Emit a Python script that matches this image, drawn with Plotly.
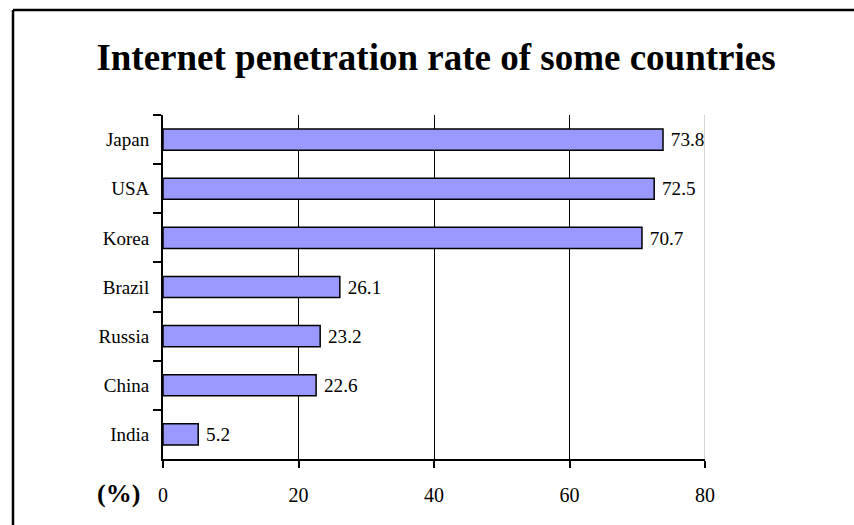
import plotly.graph_objects as go

# Internet penetration rate (%) by country
countries = ["Japan", "USA", "Korea", "Brazil", "Russia", "China", "India"]
rates = [73.8, 72.5, 70.7, 26.1, 23.2, 22.6, 5.2]
x_ticks = [0, 20, 40, 60, 80]

serif = "Liberation Serif, Times New Roman, serif"

fig = go.Figure(
    go.Bar(
        x=rates,
        y=countries,
        orientation="h",
        width=0.43,
        marker=dict(color="#9999ff", line=dict(color="black", width=1.5)),
        text=[f" {v:.1f}" for v in rates],
        textposition="outside",
        textfont=dict(family=serif, size=20, color="black"),
        cliponaxis=False,
    )
)

W, H = 854, 525
L, R, T, B = 163, 149, 115, 66
pw, ph = W - L - R, H - T - B

def px_x(p):
    return (p - L) / pw

def px_y(p):
    return (H - B - p) / ph

fig.update_layout(
    width=W,
    height=H,
    margin=dict(l=L, r=R, t=T, b=B, pad=0),
    paper_bgcolor="white",
    plot_bgcolor="white",
    showlegend=False,
    font=dict(family=serif, size=19, color="black"),
    title=dict(
        text="<b>Internet penetration rate of some countries</b>",
        font=dict(family=serif, size=37, color="black"),
        x=436 / W,
        xanchor="center",
        y=1 - 57 / H,
        yanchor="middle",
    ),
    xaxis=dict(
        range=[0, 80],
        tickvals=x_ticks,
        ticktext=[str(v) for v in x_ticks],
        showgrid=True,
        gridcolor="black",
        gridwidth=1.2,
        showline=True,
        linecolor="black",
        linewidth=2,
        ticks="outside",
        ticklen=7,
        tickwidth=1.5,
        tickcolor="black",
        ticklabelstandoff=10,
        zeroline=False,
        tickfont=dict(family=serif, size=20),
        fixedrange=True,
    ),
    yaxis=dict(
        categoryorder="array",
        categoryarray=countries,
        autorange="reversed",
        showline=True,
        linecolor="black",
        linewidth=2,
        ticks="outside",
        tickson="boundaries",
        ticklen=8,
        tickwidth=1.5,
        tickcolor="black",
        ticklabelstandoff=8,
        showgrid=False,
        tickfont=dict(family=serif, size=19),
        fixedrange=True,
    ),
    shapes=[
        # light right edge of the plotting area
        dict(type="line", xref="x", yref="paper", x0=80, x1=80, y0=0, y1=1,
             line=dict(color="#c8c8c8", width=1.5), layer="below"),
        # outer chart frame (top and left edges)
        dict(type="line", xref="paper", yref="paper",
             x0=px_x(13), x1=px_x(W + 5), y0=px_y(10), y1=px_y(10),
             line=dict(color="black", width=2.5)),
        dict(type="line", xref="paper", yref="paper",
             x0=px_x(13), x1=px_x(13), y0=px_y(10), y1=px_y(H + 5),
             line=dict(color="black", width=2.5)),
    ],
    annotations=[
        dict(text="<b>(%)</b>", xref="paper", yref="paper",
             x=px_x(118), y=px_y(493), xanchor="center", yanchor="middle",
             showarrow=False, font=dict(family=serif, size=26, color="black")),
    ],
)

fig.write_html("out.html")
